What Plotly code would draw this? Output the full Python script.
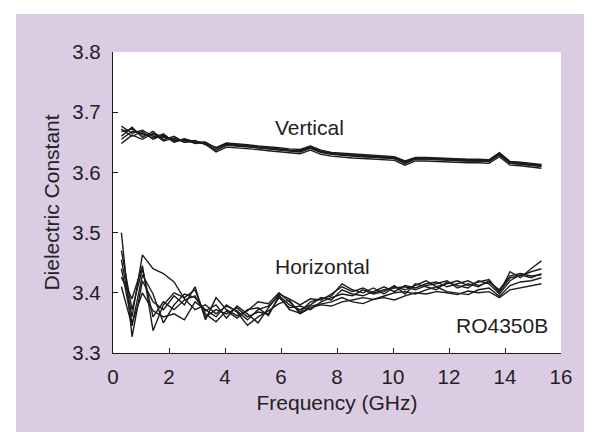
import plotly.graph_objects as go

freq = [0.30, 0.68, 1.05, 1.43, 1.80, 2.18, 2.55, 2.93, 3.30, 3.68,
        4.05, 4.43, 4.80, 5.18, 5.55, 5.93, 6.30, 6.68, 7.05, 7.43,
        7.80, 8.18, 8.55, 8.93, 9.30, 9.68, 10.05, 10.43, 10.80, 11.18,
        11.55, 11.93, 12.30, 12.68, 13.05, 13.43, 13.80, 14.18, 14.55, 14.93,
        15.30]

vertical_1 = [3.672, 3.660, 3.668, 3.655, 3.662, 3.650, 3.655, 3.648, 3.650, 3.640,
              3.648, 3.646, 3.644, 3.643, 3.641, 3.639, 3.637, 3.636, 3.643, 3.635,
              3.632, 3.630, 3.629, 3.628, 3.627, 3.626, 3.625, 3.618, 3.624, 3.624,
              3.623, 3.623, 3.622, 3.621, 3.621, 3.620, 3.632, 3.617, 3.616, 3.614,
              3.612]
vertical_2 = [3.660, 3.675, 3.658, 3.668, 3.654, 3.660, 3.650, 3.653, 3.646, 3.637,
              3.645, 3.644, 3.642, 3.641, 3.639, 3.637, 3.635, 3.634, 3.640, 3.633,
              3.630, 3.628, 3.627, 3.626, 3.625, 3.624, 3.623, 3.615, 3.622, 3.622,
              3.621, 3.621, 3.620, 3.619, 3.619, 3.618, 3.629, 3.615, 3.614, 3.612,
              3.610]
vertical_3 = [3.677, 3.665, 3.670, 3.660, 3.658, 3.655, 3.652, 3.650, 3.648, 3.641,
              3.649, 3.648, 3.646, 3.644, 3.643, 3.641, 3.639, 3.638, 3.644, 3.637,
              3.633, 3.632, 3.630, 3.629, 3.628, 3.627, 3.626, 3.619, 3.625, 3.625,
              3.624, 3.624, 3.623, 3.622, 3.622, 3.621, 3.633, 3.618, 3.617, 3.615,
              3.613]
vertical_4 = [3.648, 3.662, 3.655, 3.665, 3.652, 3.657, 3.650, 3.652, 3.647, 3.634,
              3.642, 3.641, 3.639, 3.638, 3.636, 3.634, 3.632, 3.631, 3.637, 3.630,
              3.627, 3.625, 3.624, 3.623, 3.622, 3.621, 3.620, 3.612, 3.619, 3.619,
              3.618, 3.618, 3.617, 3.616, 3.616, 3.615, 3.626, 3.612, 3.611, 3.609,
              3.607]
vertical_5 = [3.668, 3.672, 3.662, 3.663, 3.660, 3.653, 3.654, 3.649, 3.649, 3.641,
              3.646, 3.645, 3.643, 3.642, 3.640, 3.638, 3.636, 3.635, 3.641, 3.634,
              3.631, 3.629, 3.628, 3.627, 3.626, 3.625, 3.624, 3.617, 3.623, 3.623,
              3.622, 3.622, 3.621, 3.620, 3.620, 3.619, 3.630, 3.616, 3.615, 3.613,
              3.611]
vertical_6 = [3.655, 3.668, 3.665, 3.657, 3.664, 3.651, 3.656, 3.651, 3.650, 3.640,
              3.647, 3.644, 3.643, 3.641, 3.640, 3.638, 3.636, 3.635, 3.641, 3.634,
              3.631, 3.629, 3.628, 3.627, 3.626, 3.624, 3.623, 3.616, 3.622, 3.622,
              3.621, 3.621, 3.620, 3.619, 3.619, 3.618, 3.629, 3.615, 3.614, 3.612,
              3.610]

horizontal_1 = [3.500, 3.327, 3.420, 3.385, 3.372, 3.395, 3.380, 3.410, 3.355, 3.392,
                3.372, 3.362, 3.370, 3.385, 3.382, 3.400, 3.385, 3.368, 3.385, 3.390,
                3.395, 3.415, 3.405, 3.400, 3.408, 3.398, 3.410, 3.405, 3.412, 3.420,
                3.410, 3.415, 3.420, 3.412, 3.418, 3.422, 3.400, 3.435, 3.425, 3.440,
                3.453]
horizontal_2 = [3.455, 3.360, 3.463, 3.440, 3.432, 3.418, 3.390, 3.372, 3.380, 3.365,
                3.378, 3.370, 3.355, 3.372, 3.378, 3.395, 3.380, 3.372, 3.380, 3.392,
                3.388, 3.405, 3.398, 3.395, 3.402, 3.410, 3.402, 3.412, 3.408, 3.415,
                3.418, 3.410, 3.415, 3.420, 3.412, 3.418, 3.405, 3.428, 3.432, 3.428,
                3.430]
horizontal_3 = [3.426, 3.390, 3.445, 3.337, 3.380, 3.400, 3.392, 3.405, 3.360, 3.372,
                3.365, 3.375, 3.360, 3.368, 3.365, 3.392, 3.375, 3.378, 3.372, 3.385,
                3.392, 3.398, 3.395, 3.405, 3.398, 3.402, 3.412, 3.398, 3.415, 3.410,
                3.405, 3.418, 3.412, 3.408, 3.420, 3.415, 3.398, 3.420, 3.430, 3.425,
                3.432]
horizontal_4 = [3.440, 3.350, 3.400, 3.370, 3.360, 3.365, 3.355, 3.385, 3.372, 3.360,
                3.380, 3.368, 3.346, 3.360, 3.370, 3.382, 3.388, 3.365, 3.375, 3.380,
                3.378, 3.385, 3.388, 3.392, 3.389, 3.395, 3.400, 3.402, 3.398, 3.405,
                3.410, 3.402, 3.400, 3.397, 3.405, 3.408, 3.394, 3.412, 3.418, 3.420,
                3.425]
horizontal_5 = [3.470, 3.372, 3.440, 3.360, 3.385, 3.372, 3.388, 3.395, 3.365, 3.352,
                3.370, 3.358, 3.372, 3.375, 3.362, 3.395, 3.372, 3.366, 3.378, 3.382,
                3.385, 3.392, 3.385, 3.382, 3.389, 3.392, 3.388, 3.395, 3.400, 3.398,
                3.402, 3.400, 3.397, 3.403, 3.400, 3.402, 3.392, 3.405, 3.408, 3.412,
                3.415]
horizontal_6 = [3.410, 3.345, 3.430, 3.398, 3.350, 3.380, 3.398, 3.392, 3.370, 3.380,
                3.358, 3.378, 3.365, 3.350, 3.375, 3.398, 3.390, 3.380, 3.390, 3.388,
                3.398, 3.410, 3.402, 3.408, 3.400, 3.405, 3.408, 3.410, 3.405, 3.412,
                3.415, 3.420, 3.408, 3.415, 3.410, 3.420, 3.402, 3.425, 3.428, 3.435,
                3.440]

x_ticks = [0, 2, 4, 6, 8, 10, 12, 14, 16]
y_ticks = [3.3, 3.4, 3.5, 3.6, 3.7, 3.8]
x_title = "Frequency (GHz)"
y_title = "Dielectric Constant"

series = [vertical_1, vertical_2, vertical_3, vertical_4, vertical_5, vertical_6,
          horizontal_1, horizontal_2, horizontal_3, horizontal_4, horizontal_5, horizontal_6]

FONT = "Liberation Sans, Arial, Helvetica, sans-serif"
LAV = "#DBCCE4"
TXT = "#222222"

fig = go.Figure()
for s in series:
    fig.add_trace(go.Scatter(x=freq, y=s, mode="lines",
                             line=dict(color="#1c1c1c", width=1.4),
                             showlegend=False, hoverinfo="skip"))

W, H = 592, 432
L, R, T, B = 105, 553, 44, 345
pw, ph = R - L, B - T

def px_x(p):
    return (p - L) / pw

def px_y(p):
    return (B - p) / ph

fig.add_shape(type="rect", xref="paper", yref="paper", layer="below",
              x0=px_x(8), x1=px_x(592), y0=px_y(430), y1=px_y(6),
              fillcolor=LAV, line=dict(width=0))
fig.add_shape(type="rect", xref="paper", yref="paper", layer="below",
              x0=0, x1=1, y0=0, y1=1, fillcolor="white", line=dict(width=0))

ann_font = dict(size=21, color=TXT, family=FONT)
fig.add_annotation(x=7.02, y=3.675, text="Vertical", showarrow=False, font=ann_font)
fig.add_annotation(x=7.48, y=3.443, text="Horizontal", showarrow=False, font=ann_font)
fig.add_annotation(x=13.89, y=3.3465, text="RO4350B", showarrow=False, font=ann_font)

axis_common = dict(showline=True, linecolor="#1c1c1c", linewidth=1.3,
                   ticks="inside", ticklen=5, tickwidth=1, tickcolor="#1c1c1c",
                   showgrid=False, zeroline=False, mirror=False,
                   tickfont=dict(size=20.5, color=TXT, family=FONT))

fig.update_layout(
    width=W, height=H,
    margin=dict(l=L, r=W - R, t=T, b=H - B),
    paper_bgcolor="white", plot_bgcolor="rgba(0,0,0,0)",
    font=dict(family=FONT, color=TXT),
    xaxis=dict(range=[0, 16], tickvals=x_ticks, ticktext=[str(v) for v in x_ticks],
               title=dict(text=x_title, font=dict(size=21, color=TXT, family=FONT),
                          standoff=8),
               ticklabelstandoff=5, **axis_common),
    yaxis=dict(range=[3.3, 3.8], tickvals=y_ticks, ticktext=[f"{v:.1f}" for v in y_ticks],
               title=dict(text=y_title, font=dict(size=21, color=TXT, family=FONT),
                          standoff=6),
               ticklabelstandoff=7, **axis_common),
)

fig.write_html("out.html")
